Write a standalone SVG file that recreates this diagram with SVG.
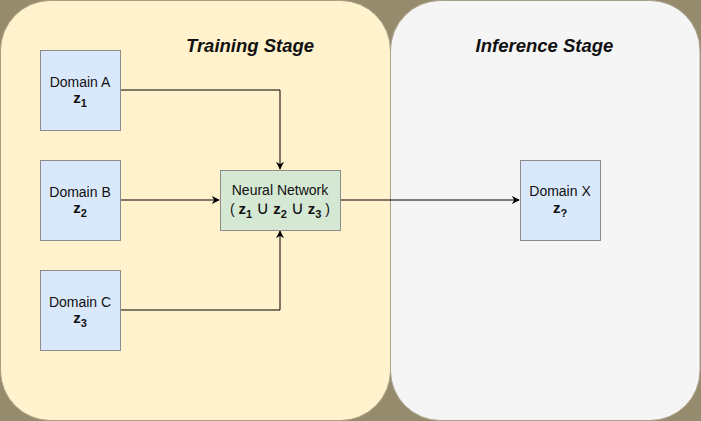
<svg xmlns="http://www.w3.org/2000/svg" width="701" height="421" viewBox="0 0 701 421">
<defs>
<style>
.t{font-family:"Liberation Sans",Arial,sans-serif;font-size:14px;fill:#111;text-anchor:middle}
.z{font-weight:bold;font-size:15px}
.s{font-size:11px;font-weight:bold}
.u{font-family:"DejaVu Sans",sans-serif;font-size:18px}
.h{font-family:"Liberation Sans",Arial,sans-serif;font-size:18.5px;font-weight:bold;font-style:italic;fill:#111;text-anchor:middle}
.box{stroke:#8c8c8c;stroke-width:1}
.c{fill:none;stroke:#000;stroke-width:1}
</style>
<marker id="a" viewBox="0 0 10 10" refX="9" refY="5" markerWidth="8" markerHeight="8" markerUnits="userSpaceOnUse" orient="auto">
<path d="M0,0 L10,5 L0,10 L3,5 Z" fill="#000"/>
</marker>
</defs>
<rect x="0" y="0" width="701" height="421" fill="#978b6d"/>
<g id="training-stage">
<rect x="0.5" y="0.5" width="390" height="420" rx="50" ry="50" fill="#fff2cc" stroke="#a89f80"/>
<text class="h" x="250" y="52">Training Stage</text>
</g>
<g id="inference-stage">
<rect x="390.5" y="0.5" width="309.5" height="420" rx="50" ry="50" fill="#f5f5f5" stroke="#a8a08a"/>
<text class="h" x="544.5" y="52">Inference Stage</text>
</g>
<g id="connectors">
<path class="c" d="M120,90 H280 V169" marker-end="url(#a)"/>
<path class="c" d="M120,200 H219" marker-end="url(#a)"/>
<path class="c" d="M120,310 H280 V231" marker-end="url(#a)"/>
<path class="c" d="M340,200 H519" marker-end="url(#a)"/>
</g>
<g id="domain-a">
<rect class="box" x="40.5" y="50.5" width="80" height="80" fill="#dae8fc"/>
<text class="t" x="80" y="87">Domain A</text>
<text class="t" x="80" y="103"><tspan class="z">z</tspan><tspan class="s" dy="4">1</tspan></text>
</g>
<g id="domain-b">
<rect class="box" x="40.5" y="160.5" width="80" height="80" fill="#dae8fc"/>
<text class="t" x="80" y="197">Domain B</text>
<text class="t" x="80" y="213"><tspan class="z">z</tspan><tspan class="s" dy="4">2</tspan></text>
</g>
<g id="domain-c">
<rect class="box" x="40.5" y="270.5" width="80" height="80" fill="#dae8fc"/>
<text class="t" x="80" y="307">Domain C</text>
<text class="t" x="80" y="323"><tspan class="z">z</tspan><tspan class="s" dy="4">3</tspan></text>
</g>
<g id="neural-network">
<rect class="box" x="220.5" y="170.5" width="120" height="60" fill="#d5e8d4"/>
<text class="t" x="280" y="195">Neural Network</text>
<text class="t" x="280" y="214">( <tspan class="z">z</tspan><tspan class="s" dy="4">1</tspan><tspan dy="-4"> </tspan><tspan class="u">∪</tspan><tspan> </tspan><tspan class="z">z</tspan><tspan class="s" dy="4">2</tspan><tspan dy="-4"> </tspan><tspan class="u">∪</tspan><tspan> </tspan><tspan class="z">z</tspan><tspan class="s" dy="4">3</tspan><tspan dy="-4"> )</tspan></text>
</g>
<g id="domain-x">
<rect class="box" x="520.5" y="160.5" width="80" height="80" fill="#dae8fc"/>
<text class="t" x="560" y="196">Domain X</text>
<text class="t" x="560" y="213"><tspan class="z">z</tspan><tspan class="s" dy="4">?</tspan></text>
</g>
</svg>
